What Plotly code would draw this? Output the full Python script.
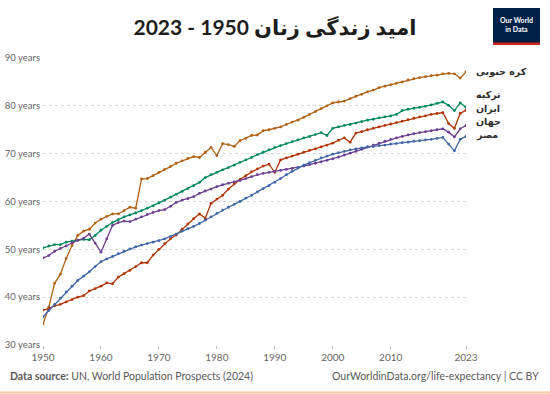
import plotly.graph_objects as go

years = list(range(1950, 2024))

korea = [34.4, 37.9, 42.9, 44.8, 48.1, 50.8, 52.9, 53.8, 54.2, 55.5,
         56.3, 56.9, 57.4, 57.4, 58.1, 58.8, 58.6, 64.7, 64.8, 65.4,
         66.1, 66.7, 67.3, 68.0, 68.5, 69.0, 69.4, 69.2, 70.3, 71.3,
         69.6, 72.1, 71.9, 71.5, 72.7, 73.2, 73.8, 73.9, 74.8, 75.0,
         75.3, 75.6, 76.1, 76.6, 77.0, 77.6, 78.2, 78.8, 79.4, 80.0,
         80.6, 80.8, 81.0, 81.5, 82.0, 82.4, 82.9, 83.3, 83.8, 84.1,
         84.4, 84.7, 85.0, 85.4, 85.7, 85.9, 86.1, 86.3, 86.4, 86.7,
         86.8, 86.7, 85.8, 87.1]

turkey = [50.3, 50.7, 51.0, 51.0, 51.5, 51.7, 51.9, 52.1, 52.0, 52.9,
          54.0, 54.8, 55.6, 56.2, 56.8, 57.2, 57.6, 58.1, 58.6, 59.1,
          59.7, 60.3, 60.9, 61.5, 62.1, 62.7, 63.3, 64.0, 65.0, 65.6,
          66.1, 66.6, 67.1, 67.6, 68.2, 68.7, 69.2, 69.8, 70.3, 70.8,
          71.3, 71.7, 72.1, 72.5, 72.9, 73.3, 73.6, 74.0, 74.4, 73.8,
          75.3, 75.6, 75.9, 76.1, 76.4, 76.7, 77.0, 77.2, 77.5, 77.7,
          77.9, 78.2, 79.0, 79.3, 79.5, 79.7, 79.9, 80.2, 80.5, 80.8,
          80.1, 79.0, 80.6, 79.7]

iran = [37.3, 37.6, 38.2, 38.5, 39.0, 39.5, 40.0, 40.3, 41.3, 41.8,
        42.3, 43.0, 42.8, 44.2, 44.9, 45.6, 46.4, 47.2, 47.2, 48.8,
        50.0, 51.2, 52.2, 53.0, 54.2, 55.3, 56.4, 57.4, 56.5, 59.6,
        60.5, 61.3, 62.6, 63.7, 64.6, 65.4, 66.2, 66.8, 67.4, 67.8,
        66.1, 68.7, 69.1, 69.5, 69.9, 70.3, 70.7, 71.0, 71.4, 71.8,
        72.2, 72.8, 73.3, 72.4, 74.3, 74.6, 75.0, 75.3, 75.6, 75.9,
        76.2, 76.5, 76.8, 77.1, 77.4, 77.7, 77.9, 78.2, 78.4, 78.6,
        76.3, 75.3, 78.4, 79.1]

world = [48.2, 48.7, 49.6, 50.2, 50.7, 51.4, 51.9, 52.3, 53.2, 51.3,
         49.4, 52.2, 55.0, 55.6, 55.9, 55.8, 56.3, 56.8, 57.3, 57.7,
         58.1, 58.3, 59.0, 59.8, 60.3, 60.6, 61.0, 61.7, 62.2, 62.6,
         63.1, 63.5, 63.8, 64.1, 64.4, 64.8, 65.2, 65.6, 65.9, 66.1,
         66.3, 66.5, 66.7, 66.9, 67.1, 67.4, 67.7, 68.0, 68.3, 68.6,
         68.9, 69.3, 69.7, 70.1, 70.5, 70.9, 71.4, 71.8, 72.2, 72.6,
         73.0, 73.3, 73.6, 73.9, 74.2, 74.4, 74.6, 74.8, 75.0, 75.2,
         74.5, 73.5, 75.2, 75.9]

egypt = [35.9, 37.2, 38.5, 39.8, 41.1, 42.3, 43.5, 44.4, 45.3, 46.4,
         47.4, 48.0, 48.5, 49.1, 49.6, 50.1, 50.5, 50.9, 51.2, 51.5,
         51.8, 52.2, 52.7, 53.2, 53.8, 54.3, 54.8, 55.4, 56.1, 56.8,
         57.5, 58.2, 58.8, 59.4, 60.0, 60.7, 61.3, 62.0, 62.7, 63.3,
         64.0, 64.8, 65.6, 66.3, 67.0, 67.6, 68.1, 68.6, 69.1, 69.5,
         69.9, 70.2, 70.5, 70.8, 71.0, 71.2, 71.4, 71.5, 71.7, 71.8,
         72.0, 72.1, 72.3, 72.4, 72.6, 72.7, 72.9, 73.0, 73.2, 73.4,
         72.0, 70.6, 73.0, 73.6]

series_names = ["کره جنوبی", "ترکیه", "ایران", "جهان", "مصر"]
series_values = [korea, turkey, iran, world, egypt]
series_colors = ["#B16214", "#00875E", "#B13507", "#6D3E91", "#3F67A8"]
label_y = [87.1, 82.2, 79.4, 76.6, 73.8]

y_ticks = [30, 40, 50, 60, 70, 80, 90]
y_tick_text = [f"{v} years" for v in y_ticks]
x_ticks = [1950, 1960, 1970, 1980, 1990, 2000, 2010, 2023]

title = "امید زندگی زنان 1950 - 2023"
source_text = "<b>Data source:</b> UN, World Population Prospects (2024)"
credit_text = "OurWorldinData.org/life-expectancy | CC BY"

fig = go.Figure()
for name, vals, col in zip(series_names, series_values, series_colors):
    fig.add_trace(go.Scatter(
        x=years, y=vals, mode="lines+markers", name=name,
        line=dict(color=col, width=1.3),
        marker=dict(color=col, size=2.8),
        showlegend=False, hoverinfo="skip"))

W, H = 550, 394
L, R, T, B = 43, 84, 58, 49
pw, ph = W - L - R, H - T - B
def px(x):
    return (x - L) / pw
def py(y):
    return (H - B - y) / ph

annotations = []
for name, ly in zip(series_names, label_y):
    annotations.append(dict(x=px(474), xref="paper", y=ly, yref="y",
                            text=f"<b>{name}</b>", showarrow=False,
                            xanchor="left", yanchor="middle",
                            font=dict(family="DejaVu Sans", size=9.5, color="#2d2d2d")))

annotations += [
    dict(x=px(8), xref="paper", y=py(376), yref="paper", text=source_text,
         showarrow=False, xanchor="left", yanchor="middle",
         font=dict(family="Lato", size=10.5, color="#5b5b5b")),
    dict(x=px(541), xref="paper", y=py(376), yref="paper", text=credit_text,
         showarrow=False, xanchor="right", yanchor="middle",
         font=dict(family="Lato", size=10.5, color="#5b5b5b")),
    dict(x=px(516.5), xref="paper", y=py(24), yref="paper",
         text="<b>Our World<br>in Data</b>", showarrow=False,
         xanchor="center", yanchor="middle", align="center",
         font=dict(family="Lato", size=7, color="white")),
]

shapes = [
    dict(type="rect", xref="paper", yref="paper", x0=px(493), x1=px(540),
         y0=py(45), y1=py(8), fillcolor="#002147", line=dict(width=0), layer="above"),
    dict(type="rect", xref="paper", yref="paper", x0=px(493), x1=px(540),
         y0=py(45), y1=py(42.5), fillcolor="#CE261E", line=dict(width=0), layer="above"),
    dict(type="line", xref="paper", yref="paper", x0=px(0), x1=px(550),
         y0=py(392.5), y1=py(392.5), line=dict(color="#F5C6A0", width=2)),
]

fig.update_layout(
    width=W, height=H,
    margin=dict(l=L, r=R, t=T, b=B),
    paper_bgcolor="white", plot_bgcolor="white",
    title=dict(text=f"<b>{title}</b>", x=0.5, xref="container", xanchor="center",
               y=1 - 28 / H, yref="container", yanchor="middle",
               font=dict(family="Lato, DejaVu Sans", size=21, color="#1d1d1d")),
    xaxis=dict(range=[1950, 2023], tickvals=x_ticks, ticktext=[str(v) for v in x_ticks],
               showgrid=False, zeroline=False, showline=False, automargin=False,
               ticks="outside", ticklen=3, tickcolor="#bbbbbb",
               tickfont=dict(family="Lato", size=10, color="#666666")),
    yaxis=dict(range=[30, 90], tickvals=y_ticks, ticktext=y_tick_text,
               showgrid=True, gridcolor="#d9d9d9", griddash="dot", gridwidth=1,
               zeroline=False, showline=False, ticks="", automargin=False,
               ticklabelstandoff=2,
               tickfont=dict(family="Lato", size=9.5, color="#666666")),
    annotations=annotations, shapes=shapes,
)

fig.write_html("out.html", config={"displayModeBar": False},
               post_script="document.body.style.margin='0';")
